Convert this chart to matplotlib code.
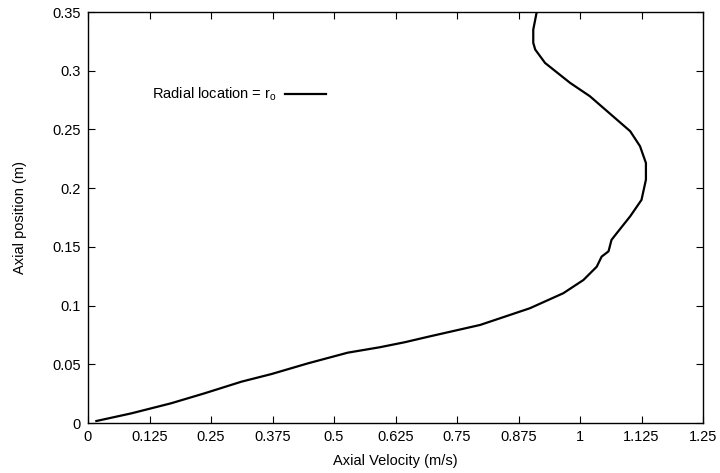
import numpy as np
import matplotlib
matplotlib.use("Agg")
import matplotlib.pyplot as plt

plt.rcParams['font.family'] = ['Liberation Sans', 'DejaVu Sans']
plt.rcParams['mathtext.fontset'] = 'custom'
plt.rcParams['mathtext.rm'] = 'Liberation Sans'
plt.rcParams['mathtext.it'] = 'Liberation Sans'

# axial velocity (m/s) vs axial position (m)
velocity = [0.017, 0.088, 0.169, 0.237, 0.312, 0.373, 0.447, 0.528, 0.593,
            0.644, 0.695, 0.797, 0.898, 0.966, 1.007, 1.034, 1.044, 1.058,
            1.064, 1.075, 1.102, 1.125, 1.134, 1.134, 1.122, 1.102, 1.075,
            1.020, 0.980, 0.929, 0.909, 0.905, 0.905, 0.909, 0.912]
position = [0.0017, 0.0082, 0.0168, 0.0253, 0.0352, 0.0417, 0.0508, 0.0599,
            0.0645, 0.0688, 0.0738, 0.0835, 0.0977, 0.1105, 0.1218, 0.1331,
            0.1417, 0.1462, 0.1559, 0.1618, 0.176, 0.190, 0.2072, 0.2214,
            0.2357, 0.2485, 0.2583, 0.2783, 0.2896, 0.3066, 0.318, 0.3237,
            0.335, 0.3435, 0.35]

xticks = [0, 0.125, 0.25, 0.375, 0.5, 0.625, 0.75, 0.875, 1, 1.125, 1.25]
yticks = [0, 0.05, 0.1, 0.15, 0.2, 0.25, 0.3, 0.35]

fig = plt.figure(figsize=(7.2, 4.73), dpi=100)
ax = fig.add_axes([88/720, 1-423/473, (703-88)/720, (423-12)/473])

ax.plot(velocity, position, color='black', lw=1.6, solid_joinstyle='round',
        label=r'Radial location = r$_\mathrm{o}$')

ax.set_xlim(0, 1.25)
ax.set_ylim(0, 0.35)
ax.set_xticks(xticks)
ax.set_xticklabels(['0', '0.125', '0.25', '0.375', '0.5', '0.625', '0.75',
                    '0.875', '1', '1.125', '1.25'])
ax.set_yticks(yticks)
ax.set_yticklabels(['0', '0.05', '0.1', '0.15', '0.2', '0.25', '0.3', '0.35'])
ax.tick_params(direction='in', length=5, width=0.8, top=True, right=True,
               labelsize=10.5, pad=5)
for s in ax.spines.values():
    s.set_linewidth(1.0)

ax.set_xlabel('Axial Velocity (m/s)', fontsize=10.5, labelpad=7)
ax.set_ylabel('Axial position (m)', fontsize=10.5, labelpad=18)

ax.legend(loc='upper left', bbox_to_anchor=(0.082, 0.852), frameon=False,
          markerfirst=False, fontsize=10.5, handlelength=2.8,
          handletextpad=0.6)

fig.savefig('out.png', dpi=100)
